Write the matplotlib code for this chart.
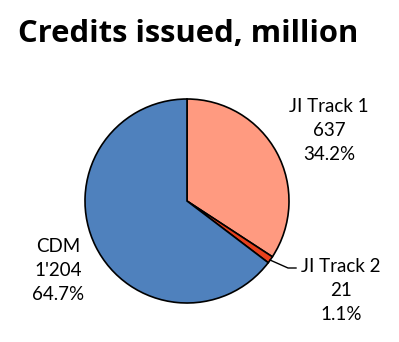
import matplotlib
matplotlib.use('Agg')
import matplotlib.pyplot as plt

# credits issued per mechanism, million
names = ['JI Track 1', 'JI Track 2', 'CDM']
credits = [637, 21, 1204]
colors = ['#FF9A80', '#E8401C', '#4F81BD']

W, H = 399, 342
plt.rcParams['font.family'] = ['Lato', 'DejaVu Sans']

fig = plt.figure(figsize=(W / 100, H / 100), dpi=100)
ax = fig.add_axes([0, 0, 1, 1])

cx, cy, r = 187, H - 201, 102
wedges, _ = ax.pie(credits, colors=colors, startangle=90, counterclock=False,
                   center=(cx, cy), radius=r, frame=True,
                   wedgeprops=dict(edgecolor='black', linewidth=1.2))
ax.set_xlim(0, W)
ax.set_ylim(0, H)
ax.set_aspect('equal')
ax.axis('off')

total = float(sum(credits))


def fmt(v):
  return '{:,}'.format(v).replace(',', "'")

# label centres (x, y of first line) in pixels from top
label_pos = {'JI Track 1': (329, 106), 'JI Track 2': (341, 266), 'CDM': (58, 246)}
for name, v in zip(names, credits):
  x, y = label_pos[name]
  lines = [name, fmt(v), '{:.1f}%'.format(100 * v / total)]
  for i, s in enumerate(lines):
    ax.text(x, H - (y + 24.5 * i), s, ha='center', va='center', fontsize=13.5,
            color='black')

# leader line for the small slice
ax.plot([270, 288, 296], [H - 260, H - 268, H - 268], color='black', lw=1)

fig.text(18 / W, 1 - 41.5 / H, 'Credits issued, million', fontsize=22.3,
         fontweight='bold', ha='left', va='baseline', family='Open Sans')

fig.savefig('out.png', dpi=100)
